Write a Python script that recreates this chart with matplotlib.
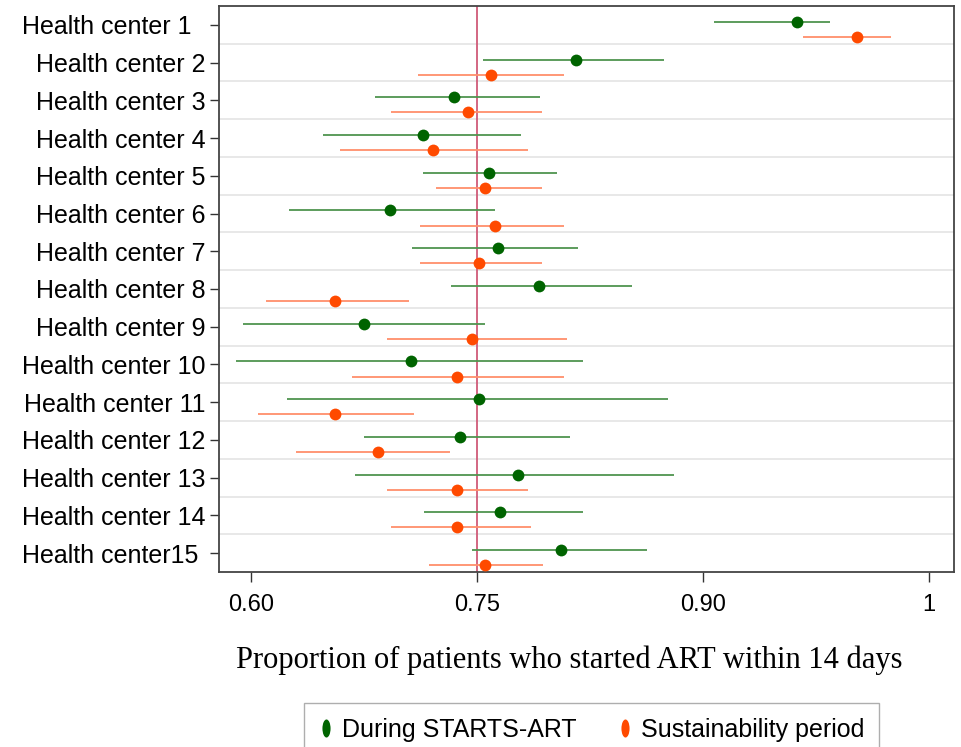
import numpy as np
import matplotlib
matplotlib.use("Agg")
import matplotlib.pyplot as plt
from matplotlib.lines import Line2D
from matplotlib.path import Path
from matplotlib.transforms import Affine2D

# Data (proportion started ART within 14 days, with CI)
centers = ["Health center 1  ", "Health center 2", "Health center 3", "Health center 4",
           "Health center 5", "Health center 6", "Health center 7", "Health center 8",
           "Health center 9", "Health center 10", "Health center 11", "Health center 12",
           "Health center 13", "Health center 14", "Health center15 "]

during_est = [0.962, 0.816, 0.735, 0.714, 0.758, 0.692, 0.764, 0.791, 0.675, 0.706,
              0.751, 0.739, 0.777, 0.765, 0.806]
during_lo = [0.907, 0.754, 0.682, 0.648, 0.714, 0.625, 0.707, 0.733, 0.595, 0.590,
             0.624, 0.675, 0.669, 0.715, 0.747]
during_hi = [0.984, 0.874, 0.792, 0.779, 0.803, 0.762, 0.817, 0.853, 0.755, 0.820,
             0.877, 0.812, 0.881, 0.820, 0.863]

sust_est = [1.002, 0.759, 0.744, 0.721, 0.755, 0.762, 0.751, 0.656, 0.747, 0.737,
            0.656, 0.684, 0.737, 0.737, 0.755]
sust_lo = [0.966, 0.711, 0.693, 0.659, 0.723, 0.712, 0.712, 0.610, 0.690, 0.667,
           0.605, 0.630, 0.690, 0.693, 0.718]
sust_hi = [1.025, 0.808, 0.793, 0.784, 0.793, 0.808, 0.793, 0.705, 0.810, 0.808,
           0.708, 0.732, 0.784, 0.786, 0.794]

tick_vals = [0.60, 0.75, 0.90, 1.05]
tick_labels = ["0.60", "0.75", "0.90", "1"]
ref_line = 0.75

green_dot, green_ci = "#006400", "#4f944f"
orange_dot, orange_ci = "#ff4a00", "#ff8f6b"

plt.rcParams["font.family"] = ["Liberation Sans", "DejaVu Sans"]

fig = plt.figure(figsize=(9.61, 7.47), dpi=100)
ax = fig.add_axes([0.2279, 0.2343, 0.7648, 0.7577])

rows = np.arange(len(centers))
y_green = rows - 0.08
y_orange = rows + 0.32

# separators between centers
for y in rows[:-1] + 0.5:
    ax.axhline(y, color="#e4e4e4", lw=1.2, zorder=1)

ax.axvline(ref_line, color="#d05a78", lw=1.3, zorder=2)

ax.hlines(y_green, during_lo, during_hi, color=green_ci, lw=1.3, zorder=3)
ax.hlines(y_orange, sust_lo, sust_hi, color=orange_ci, lw=1.3, zorder=3)
ax.plot(during_est, y_green, "o", color=green_dot, ms=8.5, mec="none", zorder=4)
ax.plot(sust_est, y_orange, "o", color=orange_dot, ms=8.5, mec="none", zorder=4)

ax.set_xlim(0.5788, 1.0665)
ax.set_ylim(14.5, -0.5)
ax.set_xticks(tick_vals, tick_labels, fontsize=17)
ax.set_yticks(rows, centers, fontsize=18)
ax.tick_params(axis="x", length=7.5, width=1, pad=8, color="#333333")
ax.tick_params(axis="y", length=6.5, width=1, pad=3, color="#333333")

for s in ax.spines.values():
    s.set_color("#444444")
    s.set_linewidth(1.3)

fig.text(0.592, 0.1165, "Proportion of patients who started ART within 14 days",
         family=["Liberation Serif", "DejaVu Serif"], fontsize=22,
         ha="center", va="center")

ellipse = Path.unit_circle().transformed(Affine2D().scale(0.45, 1.0))
handles = [Line2D([], [], ls="none", marker=ellipse, ms=13, color=green_dot, mec="none"),
           Line2D([], [], ls="none", marker=ellipse, ms=13, color=orange_dot, mec="none")]
leg = fig.legend(handles, ["During STARTS-ART", "Sustainability period"],
                 loc="upper center", bbox_to_anchor=(0.6155, 0.0589), ncol=2,
                 fontsize=18, frameon=True, fancybox=False, edgecolor="#9a9a9a",
                 handlelength=0.6, handletextpad=0.35, columnspacing=1.6,
                 borderpad=0.6, borderaxespad=0)
leg.get_frame().set_linewidth(1.0)

fig.savefig("out.png", dpi=100)
